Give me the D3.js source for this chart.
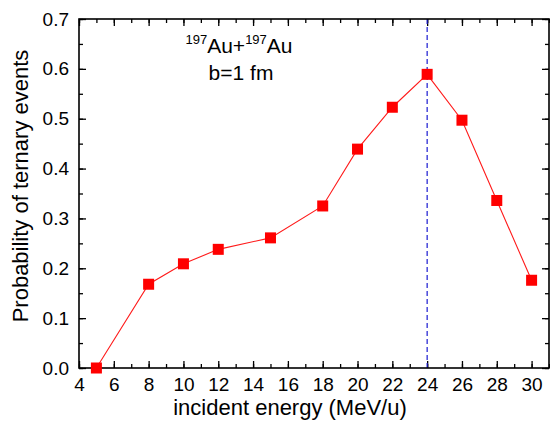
<!DOCTYPE html>
<html><head><meta charset="utf-8">
<script src="https://cdn.jsdelivr.net/npm/d3@7"></script>
<style>body{margin:0;background:#fff}svg{display:block}text{font-family:"Liberation Sans",Arial,sans-serif;fill:#000}</style>
</head><body><svg id="c" width="550" height="422"></svg>
<script>
const energies = [5, 8, 10, 12, 15, 18, 20, 22, 24, 26, 28, 30];
const probabilities = [0.0, 0.168, 0.209, 0.238, 0.261, 0.325, 0.439, 0.523, 0.589, 0.497, 0.336, 0.176];
const xTickValues = [4, 6, 8, 10, 12, 14, 16, 18, 20, 22, 24, 26, 28, 30];
const yTickValues = [0.0, 0.1, 0.2, 0.3, 0.4, 0.5, 0.6, 0.7];
const markerEnergy = 24;

const svg = d3.select("#c");
const L = 79, R = 549, T = 19, B = 368;
const x = d3.scaleLinear().domain([4, 31]).range([L, R]);
const y = d3.scaleLinear().domain([0, 0.7]).range([B, T]);

const xMinor = d3.range(4, 32, 1);
const yMinor = d3.range(0, 0.7001, 0.05);

function ticks(g, axisFn, scale, major, minor, fmt) {
  g.call(axisFn(scale).tickValues(minor).tickSize(-4).tickFormat(""));
  g.call(gg => gg.selectAll(".domain").remove());
  const g2 = g.append("g").call(axisFn(scale).tickValues(major).tickSize(-7).tickPadding(10).tickFormat(fmt));
  g2.select(".domain").remove();
  g.selectAll("line").attr("stroke", "#000").attr("stroke-width", 1.3);
  g2.selectAll("text").attr("font-size", 19).attr("font-family", "Liberation Sans, Arial, sans-serif").attr("fill", "#000");
}

ticks(svg.append("g").attr("transform", `translate(0,${B})`), d3.axisBottom, x, xTickValues, xMinor, d3.format("d"));
ticks(svg.append("g").attr("transform", `translate(0,${T})`), d3.axisTop, x, xTickValues, xMinor, () => "");
ticks(svg.append("g").attr("transform", `translate(${L},0)`), d3.axisLeft, y, yTickValues, yMinor, d3.format(".1f"));
ticks(svg.append("g").attr("transform", `translate(${R},0)`), d3.axisRight, y, yTickValues, yMinor, () => "");

// dashed vertical line
svg.append("line").attr("x1", x(markerEnergy)).attr("x2", x(markerEnergy))
  .attr("y1", y(0.7)).attr("y2", y(0)).attr("stroke", "#1a1ad0").attr("stroke-width", 1.2)
  .attr("stroke-dasharray", "5,3");

// frame
svg.append("rect").attr("x", L).attr("y", T).attr("width", R - L).attr("height", B - T)
  .attr("fill", "none").attr("stroke", "#000").attr("stroke-width", 1.6);

const data = energies.map((e, i) => ({e, p: probabilities[i]}));
svg.append("path").datum(data)
  .attr("d", d3.line().x(d => x(d.e)).y(d => y(d.p)))
  .attr("fill", "none").attr("stroke", "#ff1a1a").attr("stroke-width", 1.1);
const s = 11;
svg.selectAll("rect.m").data(data).enter().append("rect").attr("class", "m")
  .attr("x", d => x(d.e) - s / 2).attr("y", d => y(d.p) - s / 2)
  .attr("width", s).attr("height", s).attr("fill", "#ff0000");

// axis titles
svg.append("text").attr("x", 290).attr("y", 415).attr("text-anchor", "middle")
  .attr("font-size", 22).text("incident energy (MeV/u)");
svg.append("text").attr("transform", "translate(28,186) rotate(-90)").attr("text-anchor", "middle")
  .attr("font-size", 22).text("Probability of ternary events");

// annotation
const a = svg.append("text").attr("x", 239).attr("y", 53).attr("text-anchor", "middle").attr("font-size", 21);
a.append("tspan").attr("font-size", 13).attr("dy", -9).text("197");
a.append("tspan").attr("dy", 9).text("Au+");
a.append("tspan").attr("font-size", 13).attr("dy", -9).text("197");
a.append("tspan").attr("dy", 9).text("Au");
svg.append("text").attr("x", 241).attr("y", 80).attr("text-anchor", "middle").attr("font-size", 21).text("b=1 fm");
</script></body></html>
